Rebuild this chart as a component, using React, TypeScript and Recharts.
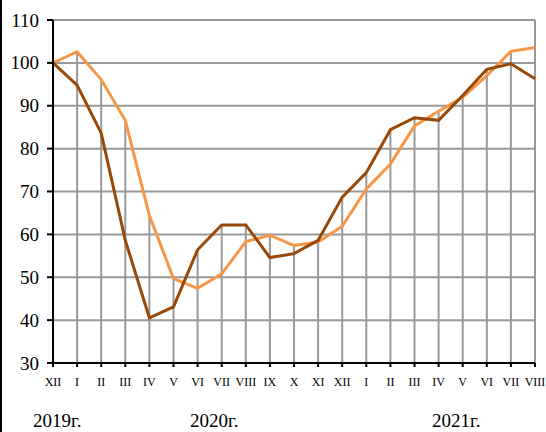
import React from "react";
import { LineChart, Line, XAxis, YAxis, CartesianGrid, ReferenceLine } from "recharts";

// month labels along the x axis: XII 2019 .. VIII 2021
const months = [
    "XII", "I", "II", "III", "IV", "V", "VI", "VII", "VIII", "IX", "X", "XI",
    "XII", "I", "II", "III", "IV", "V", "VI", "VII", "VIII",
];

const darkSeries = [
    100, 94.8, 83.6, 58.6, 40.5, 43.1, 56.4, 62.2, 62.2, 54.6, 55.5, 58.6,
    68.7, 74.4, 84.4, 87.2, 86.6, 92.4, 98.5, 99.8, 96.3,
];

const orangeSeries = [
    100, 102.6, 96.1, 86.6, 64.4, 49.7, 47.4, 50.8, 58.3, 59.8, 57.4, 58.2,
    61.9, 70.6, 76.4, 85.3, 88.7, 92.0, 97.0, 102.7, 103.6,
];

const yTicks = [30, 40, 50, 60, 70, 80, 90, 100, 110];

const years = [
    { label: "2019г.", left: 33 },
    { label: "2020г.", left: 190 },
    { label: "2021г.", left: 432 },
];

const data = months.map((m, i) => ({
    i,
    month: m,
    dark: darkSeries[i],
    orange: orangeSeries[i],
}));

const GRID = "#999999";
const FONT = "'Liberation Serif', 'Times New Roman', serif";

function MonthTick({ x, y, payload }: any) {
    return (
        <text x={x} y={y + 17} textAnchor="middle" fontSize={12} style={{ fontFamily: FONT }} fill="#000">
            {months[payload.value]}
        </text>
    );
}

function ValueTick({ x, y, payload }: any) {
    return (
        <text x={x - 6} y={y} textAnchor="end" dominantBaseline="central" fontSize={19} style={{ fontFamily: FONT }} fill="#000">
            {payload.value}
        </text>
    );
}

export default function App() {
    return (
        <div style={{ position: "relative", width: 546, height: 432, background: "#fff", overflow: "hidden" }}>
            <style>{`body{margin:0}`}</style>
            <LineChart
                width={546}
                height={432}
                data={data}
                margin={{ top: 20, right: 11, left: 0, bottom: 0 }}
            >
                <CartesianGrid vertical={false} stroke={GRID} strokeWidth={2} />
                {data.slice(0, 20).map((d) => (
                    <ReferenceLine
                        key={d.i}
                        segment={[
                            { x: d.i, y: 30 },
                            { x: d.i, y: Math.max(d.dark, d.orange) },
                        ]}
                        stroke={GRID}
                        strokeWidth={2}
                    />
                ))}
                <ReferenceLine x={20} stroke={GRID} strokeWidth={2} />
                <XAxis
                    type="number"
                    dataKey="i"
                    domain={[0, 20]}
                    ticks={data.map((d) => d.i)}
                    interval={0}
                    height={69}
                    axisLine={{ stroke: "#000", strokeWidth: 2 }}
                    tickLine={{ stroke: "#000", strokeWidth: 2 }}
                    tickSize={4}
                    tick={<MonthTick />}
                />
                <YAxis
                    domain={[30, 110]}
                    ticks={yTicks}
                    interval={0}
                    width={53}
                    axisLine={{ stroke: "#000", strokeWidth: 2 }}
                    tickLine={{ stroke: "#000", strokeWidth: 2 }}
                    tickSize={6}
                    tick={<ValueTick />}
                />
                <Line
                    type="linear"
                    dataKey="orange"
                    stroke="#F79646"
                    strokeWidth={3}
                    dot={false}
                    isAnimationActive={false}
                />
                <Line
                    type="linear"
                    dataKey="dark"
                    stroke="#984807"
                    strokeWidth={3}
                    dot={false}
                    isAnimationActive={false}
                />
            </LineChart>
            <div style={{ position: "absolute", left: 0, top: 0, width: 2, height: 432, background: "#000" }} />
            <svg width={546} height={432} style={{ position: "absolute", left: 0, top: 0, pointerEvents: "none" }}>
                {years.map((y) => (
                    <text key={y.label} x={y.left} y={427} fontSize={19} style={{ fontFamily: FONT }} fill="#000">
                        {y.label}
                    </text>
                ))}
            </svg>
        </div>
    );
}
